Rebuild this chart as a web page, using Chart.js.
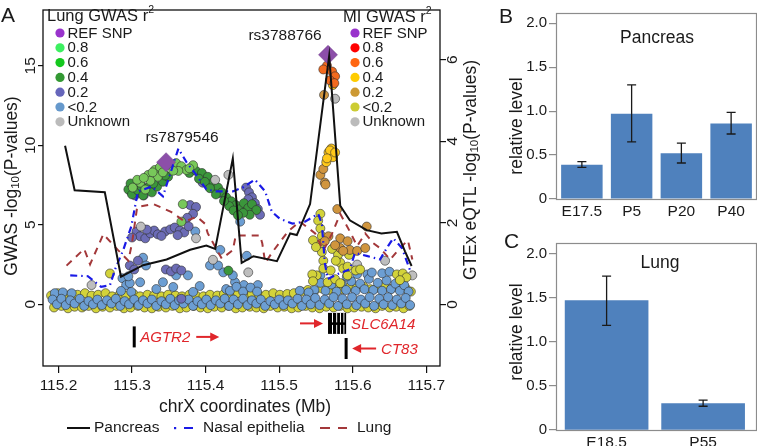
<!DOCTYPE html>
<html>
<head>
<meta charset="utf-8">
<script src="https://cdn.jsdelivr.net/npm/chart.js@4.4.1/dist/chart.umd.min.js"></script>
<style>
  body { margin: 0; background: #fff; }
  #wrap { position: relative; width: 757px; height: 446px; overflow: hidden; }
  canvas { position: absolute; }
</style>
</head>
<body>
<div id="wrap">
  <canvas id="chartA" width="490" height="446" style="left:0;top:0"></canvas>
  <canvas id="chartB" width="267" height="220" style="left:490px;top:0"></canvas>
  <canvas id="chartC" width="267" height="226" style="left:490px;top:220px"></canvas>
</div>
<script>
// =============================================================================
// PANEL A DATA  (x in Mb, GWAS points on left axis, eQTL lines on right axis)
// =============================================================================

const xTicks = [115.2, 115.3, 115.4, 115.5, 115.6, 115.7];
const gwasTicks = [0, 5, 10, 15];
const eqtlTicks = [0, 2, 4, 6];

const pancreasEqtl = [[115.209,3.89],[115.222,2.80],[115.263,2.75],[115.285,0.68],[115.315,0.96],[115.347,1.10],[115.379,1.34],[115.401,1.44],[115.413,1.36],[115.437,3.58],[115.449,1.02],[115.465,1.18],[115.497,1.06],[115.515,1.74],[115.524,1.70],[115.542,2.46],[115.568,6.10],[115.583,2.42],[115.596,2.06],[115.619,1.82],[115.639,1.74],[115.660,1.78],[115.671,1.30],[115.680,0.94]];

const nasalEqtl = [[115.216,0.71],[115.240,0.69],[115.258,0.43],[115.270,0.47],[115.277,0.86],[115.288,1.33],[115.299,1.91],[115.308,2.77],[115.327,2.89],[115.342,2.65],[115.363,3.82],[115.374,3.49],[115.387,3.18],[115.401,2.82],[115.414,2.77],[115.437,2.77],[115.451,2.87],[115.467,3.06],[115.481,2.77],[115.490,2.27],[115.501,2.10],[115.518,1.98],[115.535,2.03],[115.553,2.22],[115.558,1.98],[115.562,1.02],[115.566,0.62],[115.579,0.74],[115.596,0.86],[115.603,1.26],[115.619,1.19],[115.637,1.10],[115.648,1.43],[115.655,1.62],[115.667,1.38],[115.678,0.83]];

const lungEqtl = [[115.211,0.95],[115.235,1.36],[115.243,0.98],[115.261,1.72],[115.281,1.33],[115.295,1.07],[115.300,1.50],[115.307,2.39],[115.329,2.46],[115.353,2.27],[115.372,2.03],[115.388,2.15],[115.399,1.98],[115.403,1.74],[115.422,1.12],[115.437,1.33],[115.441,1.69],[115.456,1.69],[115.474,1.69],[115.477,1.50],[115.481,1.02],[115.492,1.31],[115.512,1.79],[115.528,2.03],[115.549,1.74],[115.560,1.31],[115.572,1.74],[115.583,2.22],[115.596,1.79],[115.606,1.43],[115.617,1.74],[115.628,1.50],[115.637,1.38],[115.651,1.10],[115.664,1.38],[115.675,1.57],[115.681,1.10]];

// reference SNPs (purple diamonds)
const refSnpNames = ['rs7879546', 'rs3788766'];
const refSnps = [[115.3463, 8.94], [115.5664, 15.69]];

// Lung GWAS r2 groups
const lung06 = [[115.322,8.14],[115.331,8.45],[115.338,8.63],[115.352,8.75],[115.360,8.88],[115.367,8.69],[115.374,8.45],[115.363,8.39],[115.335,8.02],[115.311,7.65],[115.301,7.34],[115.307,7.83],[115.325,7.77],[115.383,8.75],[115.318,7.22],[115.369,6.30],[115.367,5.20],[115.316,7.95],[115.342,8.30],[115.356,8.40],[115.378,8.55],[115.328,8.30]];
const lung04 = [[115.295,7.22],[115.300,6.91],[115.308,7.16],[115.315,6.85],[115.304,7.53],[115.321,7.34],[115.327,7.04],[115.334,7.40],[115.342,7.71],[115.349,8.02],[115.378,8.26],[115.387,8.39],[115.395,8.26],[115.403,8.02],[115.410,7.65],[115.417,7.34],[115.422,7.04],[115.428,6.73],[115.435,6.48],[115.441,6.24],[115.447,5.99],[115.452,6.36],[115.458,6.06],[115.463,6.30],[115.469,5.93],[115.460,5.63],[115.451,5.75],[115.432,6.18],[115.414,6.91],[115.431,2.12],[115.298,7.60],[115.313,7.40],[115.329,7.60],[115.345,8.10],[115.391,7.90],[115.399,7.70],[115.406,7.30],[115.425,6.50],[115.438,5.90],[115.444,5.60]];
const lung02 = [[115.299,7.04],[115.304,6.85],[115.311,7.04],[115.316,6.85],[115.396,7.65],[115.405,7.40],[115.413,7.22],[115.420,6.98],[115.379,6.24],[115.387,6.12],[115.383,5.69],[115.375,5.44],[115.306,4.58],[115.311,4.28],[115.318,4.15],[115.325,4.46],[115.330,4.64],[115.335,4.40],[115.345,4.58],[115.352,4.71],[115.358,4.83],[115.365,4.64],[115.371,4.52],[115.297,2.44],[115.303,2.19],[115.308,2.74],[115.346,2.19],[115.353,2.07],[115.360,2.25],[115.367,2.13],[115.455,7.34],[115.459,7.04],[115.463,6.73],[115.467,6.36],[115.471,5.99],[115.474,5.63],[115.458,6.61],[115.367,0.35],[115.300,4.20],[115.340,4.30],[115.362,4.35],[115.377,4.90],[115.320,4.70]];
const lungLowScatter = [[115.315,2.93],[115.319,2.44],[115.311,1.39],[115.342,1.39],[115.360,1.82],[115.376,1.82],[115.386,4.58],[115.406,2.44],[115.420,3.42],[115.424,2.01],[115.440,1.39],[115.356,1.09],[115.333,0.96],[115.428,0.96],[115.383,0.78],[115.417,2.44],[115.437,1.82],[115.456,3.05],[115.447,5.20],[115.287,1.64],[115.292,1.21],[115.285,0.84],[115.297,1.33],[115.295,1.76],[115.299,0.78],[115.556,1.82],[115.620,1.88],[115.392,1.15],[115.452,1.21],[115.471,1.21]];
const lungLowBand = [[115.192,0.3],[115.198,0.0],[115.204,0.35],[115.210,-0.05],[115.216,0.25],[115.222,0.05],[115.229,0.35],[115.235,-0.1],[115.241,0.2],[115.247,0.0],[115.253,0.3],[115.259,-0.05],[115.266,0.25],[115.272,0.05],[115.278,0.35],[115.284,-0.1],[115.290,0.2],[115.296,0.0],[115.303,0.3],[115.309,-0.05],[115.315,0.25],[115.321,0.05],[115.327,0.3],[115.333,-0.1],[115.340,0.2],[115.346,0.0],[115.352,0.35],[115.358,-0.05],[115.364,0.25],[115.370,0.05],[115.377,0.3],[115.383,-0.1],[115.389,0.2],[115.395,0.0],[115.401,0.3],[115.407,-0.05],[115.414,0.25],[115.420,0.05],[115.426,0.35],[115.432,-0.1],[115.438,0.3],[115.444,0.0],[115.451,0.35],[115.457,-0.05],[115.463,0.25],[115.469,0.05],[115.475,0.3],[115.481,-0.1],[115.488,0.2],[115.494,0.0],[115.500,0.3],[115.506,-0.05],[115.512,0.25],[115.518,0.05],[115.525,0.35],[115.531,-0.1],[115.537,0.3],[115.543,0.0],[115.549,0.4],[115.555,-0.05],[115.562,0.3],[115.568,0.05],[115.574,0.45],[115.580,-0.1],[115.586,0.35],[115.592,0.0],[115.599,0.45],[115.605,-0.05],[115.611,0.3],[115.617,0.05],[115.623,0.45],[115.629,-0.1],[115.636,0.35],[115.642,0.0],[115.648,0.45],[115.654,-0.05],[115.660,0.3],[115.666,0.05],[115.672,0.4],[115.678,-0.05]];
const lungLowUpper = [[115.548,0.9],[115.556,1.35],[115.563,0.85],[115.571,1.25],[115.578,0.8],[115.585,1.3],[115.591,0.9],[115.598,1.45],[115.604,0.85],[115.610,1.3],[115.616,0.95],[115.622,1.6],[115.628,0.9],[115.634,1.35],[115.640,0.85],[115.646,1.5],[115.652,0.95],[115.658,1.3],[115.664,0.85],[115.670,1.2],[115.676,0.8],[115.626,2.0],[115.640,1.95],[115.650,2.05],[115.606,1.9],[115.592,1.75],[115.668,1.75],[115.433,0.85],[115.442,1.1],[115.451,0.8],[115.461,1.05],[115.470,0.8],[115.195,0.7],[115.206,0.75],[115.218,0.7],[115.528,0.85],[115.540,0.75]];
const unknownSnps = [[115.245,1.21],[115.312,4.89],[115.387,4.15],[115.410,2.80],[115.413,7.83],[115.431,8.14],[115.458,2.01],[115.546,1.82],[115.644,2.74],[115.681,1.82],[115.606,2.50],[115.576,12.93]];

// MI GWAS r2 groups
const mi06 = [[115.565,15.01],[115.572,14.64],[115.576,14.34],[115.569,14.09],[115.560,14.77],[115.575,13.91]];
const mi04 = [[115.567,9.55],[115.573,9.25],[115.564,8.94],[115.571,9.80],[115.569,9.68],[115.576,9.55],[115.565,9.18],[115.573,13.79]];
const mi02 = [[115.556,8.14],[115.562,7.65],[115.560,8.51],[115.579,5.99],[115.567,4.28],[115.583,4.15],[115.593,3.97],[115.596,3.42],[115.583,3.54],[115.606,3.36],[115.617,3.54],[115.619,4.89],[115.562,3.97],[115.576,3.72],[115.587,3.36],[115.561,13.17],[115.563,7.53]];
const miLowScatter = [[115.270,1.94],[115.556,5.69],[115.553,5.26],[115.556,4.77],[115.558,4.28],[115.556,3.79],[115.558,3.29],[115.560,2.74],[115.560,2.25],[115.572,3.48],[115.580,3.11],[115.583,2.62],[115.587,2.25],[115.593,1.82],[115.604,2.13],[115.610,2.19],[115.551,1.82],[115.545,1.88],[115.546,1.45],[115.566,1.39],[115.576,1.58],[115.583,1.33],[115.660,1.88],[115.668,1.94],[115.673,1.70],[115.664,1.52],[115.546,4.03],[115.550,3.60],[115.577,2.74],[115.593,2.37],[115.570,2.13],[115.595,3.11]];
const miLowBand = [[115.190,0.55],[115.199,0.7],[115.208,0.5],[115.217,0.65],[115.226,0.6],[115.236,0.7],[115.245,0.55],[115.254,0.6],[115.264,0.7],[115.273,0.5],[115.283,0.6],[115.292,0.55],[115.302,0.65],[115.311,0.5],[115.321,0.6],[115.330,0.55],[115.340,0.5],[115.349,0.6],[115.359,0.55],[115.368,0.5],[115.378,0.6],[115.387,0.55],[115.397,0.5],[115.406,0.6],[115.416,0.55],[115.425,0.65],[115.435,0.6],[115.444,0.7],[115.454,0.6],[115.463,0.65],[115.473,0.55],[115.482,0.6],[115.492,0.7],[115.501,0.6],[115.511,0.65],[115.520,0.7],[115.530,0.8],[115.539,0.9],[115.548,0.85],[115.558,1.0],[115.567,0.9],[115.577,1.05],[115.586,0.95],[115.596,1.1],[115.605,1.0],[115.615,1.1],[115.624,0.95],[115.634,1.05],[115.643,1.1],[115.653,1.0],[115.662,1.15],[115.672,1.0],[115.679,0.8],[115.194,-0.2],[115.204,-0.1],[115.213,-0.25],[115.222,-0.15],[115.232,-0.2],[115.241,-0.1],[115.251,-0.25],[115.260,-0.15],[115.270,-0.2],[115.279,-0.1],[115.289,-0.25],[115.298,-0.2],[115.308,-0.1],[115.317,-0.2],[115.327,-0.25],[115.336,-0.15],[115.346,-0.2],[115.355,-0.1],[115.365,-0.25],[115.374,-0.2],[115.384,-0.1],[115.393,-0.2],[115.403,-0.25],[115.412,-0.15],[115.422,-0.2],[115.431,-0.1],[115.441,-0.25],[115.450,-0.2],[115.460,-0.15],[115.469,-0.2],[115.479,-0.25],[115.488,-0.1],[115.498,-0.2],[115.507,-0.15],[115.517,-0.25],[115.526,-0.2],[115.536,-0.1],[115.545,-0.2],[115.555,-0.25],[115.564,-0.15],[115.574,-0.2],[115.583,-0.1],[115.593,-0.25],[115.602,-0.2],[115.612,-0.15],[115.621,-0.2],[115.631,-0.25],[115.640,-0.1],[115.650,-0.2],[115.659,-0.15],[115.669,-0.25],[115.677,-0.1]];

// genes (start/end in Mb, row in GWAS units)
const geneNames = ['AGTR2', 'SLC6A14', 'CT83'];
const geneStart = [115.303, 115.5664, 115.591];
const geneEnd = [115.303, 115.591, 115.591];
const geneStrand = ['+', '+', '-'];
const geneRow = [-2.05, -1.2, -2.78];

const legendLevels = ['REF SNP', '0.8', '0.6', '0.4', '0.2', '<0.2', 'Unknown'];
const lineNames = ['Pancreas', 'Nasal epithelia', 'Lung'];

// =============================================================================
// PANEL B / C DATA
// =============================================================================

const pancreasStages = ['E17.5', 'P5', 'P20', 'P40'];
const pancreasLevel = [0.39, 0.97, 0.52, 0.86];
const pancreasErrLow = [0.36, 0.65, 0.41, 0.74];
const pancreasErrHigh = [0.425, 1.30, 0.635, 0.985];

const lungStages = ['E18.5', 'P55'];
const lungLevel = [1.47, 0.30];
const lungErrLow = [1.19, 0.27];
const lungErrHigh = [1.75, 0.34];

// =============================================================================
// STYLE
// =============================================================================

const FONT = "'Liberation Sans', Arial, Helvetica, sans-serif";
const TEXT = '#1a1a1a';
const RED = '#E0262B';
const f = (size, style) => (style ? style + ' ' : '') + size + 'px ' + FONT;

const COL = {
  ref: '#8C4FA9', lung06: '#78C85A', lung04: '#3B963B', lung02: '#6C6CB6', lungLow: '#6C9ED3',
  unknown: '#BEBEBE', mi06: '#F26A1F', mi04: '#FFC81A', mi02: '#D0953E', miLow: '#D3D33A',
  pancreas: '#111111', nasal: '#1A1AE6', lung: '#A3383A', bar: '#4F81BD'
};
const lungLegendColors = ['#9933CC', '#3CF060', '#14C81E', '#339933', '#6666BB', '#6699CC', '#BBBBBB'];
const miLegendColors = ['#9933CC', '#FF0000', '#FF6611', '#FFCC00', '#CC9933', '#CCCC33', '#BBBBBB'];

const toXY = arr => arr.map(([x, y]) => ({ x, y }));

// =============================================================================
// DRAW HELPERS
// =============================================================================

// text made of parts (for sub/superscripts), optionally rotated, centred at x,y
function richText(ctx, parts, x, y, angle, align) {
  ctx.save();
  ctx.translate(x, y);
  ctx.rotate(angle || 0);
  let total = 0;
  parts.forEach(p => { ctx.font = f(p.size); p.w = ctx.measureText(p.t).width; total += p.w; });
  let cx = align === 'left' ? 0 : -total / 2;
  ctx.textBaseline = 'middle';
  ctx.textAlign = 'left';
  parts.forEach(p => { ctx.font = f(p.size); ctx.fillText(p.t, cx, p.dy || 0); cx += p.w; });
  ctx.restore();
}

function rotLabel(ctx, text, x, y, size) {
  ctx.save();
  ctx.translate(x, y);
  ctx.rotate(-Math.PI / 2);
  ctx.font = f(size);
  ctx.textAlign = 'center';
  ctx.textBaseline = 'middle';
  ctx.fillText(text, 0, 0);
  ctx.restore();
}

function arrow(ctx, x1, x2, yy) {
  const dir = Math.sign(x2 - x1);
  ctx.beginPath(); ctx.moveTo(x1, yy); ctx.lineTo(x2 - dir * 6, yy); ctx.stroke();
  ctx.beginPath(); ctx.moveTo(x2, yy); ctx.lineTo(x2 - dir * 9, yy - 4.5); ctx.lineTo(x2 - dir * 9, yy + 4.5);
  ctx.closePath(); ctx.fill();
}

function colorLegend(ctx, title, colors, x0, titleY, bulletX) {
  ctx.fillStyle = TEXT;
  richText(ctx, [{ t: title, size: 16.5 }, { t: '2', size: 10.5, dy: -6 }], x0, titleY, 0, 'left');
  legendLevels.forEach((lab, i) => {
    const yy = 33 + i * 14.8;
    ctx.fillStyle = colors[i];
    ctx.beginPath(); ctx.arc(bulletX, yy, 4.6, 0, Math.PI * 2); ctx.fill();
    ctx.fillStyle = TEXT;
    ctx.font = f(15);
    ctx.textAlign = 'left'; ctx.textBaseline = 'middle';
    ctx.fillText(lab, bulletX + 7.5, yy + 0.5);
  });
}

// =============================================================================
// PANEL A
// =============================================================================

const panelAPlugin = {
  id: 'panelA',
  afterDraw(chart) {
    const ctx = chart.ctx;
    const { x, y, y2 } = chart.scales;
    const a = chart.chartArea;
    ctx.save();

    // frame
    ctx.strokeStyle = '#111';
    ctx.lineWidth = 1.3;
    ctx.strokeRect(a.left, a.top, a.right - a.left, a.bottom - a.top);

    // tick labels
    ctx.fillStyle = TEXT;
    gwasTicks.forEach(v => rotLabel(ctx, String(v), 31, y.getPixelForValue(v), 15.5));
    eqtlTicks.forEach(v => rotLabel(ctx, String(v), 453, y2.getPixelForValue(v), 15.5));
    ctx.font = f(15.5);
    ctx.textAlign = 'center'; ctx.textBaseline = 'middle';
    xTicks.forEach(v => ctx.fillText(v.toFixed(1), x.getPixelForValue(v), 386));

    // axis titles
    ctx.font = f(17.5);
    ctx.fillText('chrX coordinates (Mb)', 245, 407);
    richText(ctx, [{ t: 'GWAS -log', size: 17.5 }, { t: '10', size: 11.5, dy: 4 }, { t: '(P-values)', size: 17.5 }], 12, 186, -Math.PI / 2);
    richText(ctx, [{ t: 'GTEx eQTL -log', size: 17.5 }, { t: '10', size: 11.5, dy: 4 }, { t: '(P-values)', size: 17.5 }], 471, 170, -Math.PI / 2);

    // reference SNP labels
    ctx.font = f(15.5);
    ctx.textAlign = 'center';
    ctx.fillText(refSnpNames[0], x.getPixelForValue(refSnps[0][0]) + 16, y.getPixelForValue(refSnps[0][1]) - 24);
    ctx.fillText(refSnpNames[1], x.getPixelForValue(refSnps[1][0]) - 43, y.getPixelForValue(refSnps[1][1]) - 19);

    // r2 legends
    colorLegend(ctx, 'Lung GWAS r', lungLegendColors, 47, 16, 60);
    colorLegend(ctx, 'MI GWAS r', miLegendColors, 343, 17, 355);

    // genes
    geneNames.forEach((name, i) => {
      const x1 = x.getPixelForValue(geneStart[i]);
      const x2 = x.getPixelForValue(geneEnd[i]);
      const gy = y.getPixelForValue(geneRow[i]);
      ctx.fillStyle = '#000';
      ctx.strokeStyle = RED;
      ctx.lineWidth = 2;
      ctx.font = f(15, 'italic');
      ctx.textBaseline = 'middle';
      ctx.textAlign = 'left';
      if (x2 - x1 < 1) {
        ctx.fillRect(x1 - 1.5, gy - 10.5, 3, 21);
      } else {
        ctx.fillRect(x1, gy - 10.5, x2 - x1, 21);
        ctx.fillStyle = '#fff';
        [0.22, 0.45, 0.66, 0.85].forEach(t => {
          ctx.fillRect(x1 + t * (x2 - x1), gy - 10.5, 1, 9.5);
          ctx.fillRect(x1 + t * (x2 - x1), gy + 1.5, 1, 9);
        });
      }
      ctx.fillStyle = RED;
      if (geneStrand[i] === '+' && x2 - x1 < 1) {
        ctx.fillText(name, x1 + 6, gy + 1);
        const w = ctx.measureText(name).width;
        arrow(ctx, x1 + 6 + w + 6, x1 + 6 + w + 29, gy);
      } else if (geneStrand[i] === '+') {
        arrow(ctx, x1 - 28, x1 - 5, gy);
        ctx.fillText(name, x2 + 5, gy + 1);
      } else {
        arrow(ctx, x1 + 30, x1 + 6, gy);
        ctx.fillText(name, x1 + 35, gy + 1);
      }
    });

    // line legend
    const ly = 428;
    ctx.lineWidth = 2;
    ctx.strokeStyle = COL.pancreas;
    ctx.beginPath(); ctx.moveTo(67, ly); ctx.lineTo(90, ly); ctx.stroke();
    ctx.fillStyle = COL.nasal;
    ctx.fillRect(174, ly - 1, 2.2, 2.2);
    ctx.strokeStyle = COL.nasal;
    ctx.beginPath(); ctx.moveTo(184, ly); ctx.lineTo(193, ly); ctx.stroke();
    ctx.strokeStyle = COL.lung;
    ctx.beginPath(); ctx.moveTo(320, ly); ctx.lineTo(330, ly); ctx.moveTo(338, ly); ctx.lineTo(347, ly); ctx.stroke();
    ctx.fillStyle = TEXT;
    ctx.font = f(15.5);
    ctx.textAlign = 'left';
    ctx.fillText(lineNames[0], 94, ly);
    ctx.fillText(lineNames[1], 203, ly);
    ctx.fillText(lineNames[2], 357, ly);

    // panel letter
    ctx.font = f(21);
    ctx.textBaseline = 'alphabetic';
    ctx.fillText('A', 1, 22);
    ctx.restore();
  }
};

const lineDs = (data, color, dash, width) => ({
  data: toXY(data), yAxisID: 'y2', showLine: true, borderColor: color, borderWidth: width,
  borderDash: dash, pointRadius: 0, fill: false, tension: 0
});
const ptDs = (data, color) => ({
  data: toXY(data), yAxisID: 'y', backgroundColor: color, borderColor: 'rgba(45,45,45,0.85)',
  borderWidth: 0.7, pointRadius: 4.5, showLine: false
});

new Chart(document.getElementById('chartA'), {
  type: 'scatter',
  data: {
    datasets: [
      lineDs(pancreasEqtl, COL.pancreas, [], 2),
      lineDs(nasalEqtl, COL.nasal, [7, 4, 1.5, 4], 2.2),
      lineDs(lungEqtl, COL.lung, [7, 6], 2),
      { ...ptDs(refSnps, COL.ref), pointStyle: 'rectRot', pointRadius: 9.5, borderColor: '#6d3a88', borderWidth: 0.5 },
      ptDs(mi06, COL.mi06),
      ptDs(mi04, COL.mi04),
      ptDs(mi02, COL.mi02),
      ptDs(miLowScatter, COL.miLow),
      ptDs(unknownSnps, COL.unknown),
      ptDs(lung06, COL.lung06),
      ptDs(lung04, COL.lung04),
      ptDs(lung02, COL.lung02),
      ptDs(lungLowScatter.concat(lungLowUpper, lungLowBand), COL.lungLow),
      ptDs(miLowBand, COL.miLow)
    ]
  },
  options: {
    responsive: false,
    animation: false,
    devicePixelRatio: 1,
    layout: { padding: { top: 1, left: 0, right: 0, bottom: 0 } },
    plugins: { legend: { display: false }, tooltip: { enabled: false } },
    scales: {
      x: {
        type: 'linear', min: 115.179, max: 115.7186,
        ticks: { display: false, stepSize: 0.1, includeBounds: false },
        grid: { drawOnChartArea: false, tickLength: 7, color: '#111', lineWidth: 1.2 },
        border: { display: false },
        afterFit: s => { s.height = 80; }
      },
      y: {
        position: 'left', min: -3.88, max: 18.51,
        ticks: { display: false, stepSize: 5, includeBounds: false },
        grid: { drawOnChartArea: false, tickLength: 5, color: '#111', lineWidth: 1.2 },
        border: { display: false },
        afterFit: s => { s.width = 43; }
      },
      y2: {
        position: 'right', min: -1.512, max: 7.22,
        ticks: { display: false, stepSize: 2, includeBounds: false },
        grid: { drawOnChartArea: false, tickLength: 6, color: '#111', lineWidth: 1.2 },
        border: { display: false },
        afterFit: s => { s.width = 50; }
      }
    }
  },
  plugins: [panelAPlugin]
});

// =============================================================================
// PANELS B AND C (bar charts with error bars)
// =============================================================================

function barPanelPlugin(opts) {
  return {
    id: 'barPanel' + opts.letter,
    afterDraw(chart) {
      const ctx = chart.ctx;
      const a = chart.chartArea;
      const ys = chart.scales.y;
      const meta = chart.getDatasetMeta(0);
      ctx.save();
      // error bars
      ctx.strokeStyle = '#1a1a1a';
      ctx.lineWidth = 1.3;
      meta.data.forEach((bar, i) => {
        const lo = ys.getPixelForValue(opts.low[i]);
        const hi = ys.getPixelForValue(opts.high[i]);
        ctx.beginPath();
        ctx.moveTo(bar.x, lo); ctx.lineTo(bar.x, hi);
        ctx.moveTo(bar.x - 4.5, lo); ctx.lineTo(bar.x + 4.5, lo);
        ctx.moveTo(bar.x - 4.5, hi); ctx.lineTo(bar.x + 4.5, hi);
        ctx.stroke();
      });
      // frame
      ctx.strokeStyle = '#8c8c8c';
      ctx.lineWidth = 1.2;
      ctx.strokeRect(a.left - 0.5, a.top - 0.5, a.right - a.left + 1, a.bottom - a.top + 1);
      // texts
      ctx.fillStyle = TEXT;
      ctx.font = f(17.5);
      ctx.textAlign = 'center'; ctx.textBaseline = 'middle';
      ctx.fillText(opts.title, opts.titleX, opts.titleY);
      rotLabel(ctx, 'relative level', 27.5, opts.axisTitleY, 17.5);
      ctx.font = f(21);
      ctx.textAlign = 'left'; ctx.textBaseline = 'alphabetic';
      ctx.fillText(opts.letter, opts.letterX, opts.letterY);
      ctx.restore();
    }
  };
}

const levelAxis = (max) => ({
  min: 0, max: max,
  ticks: {
    stepSize: 0.5, includeBounds: false, padding: 2, color: TEXT, font: { family: FONT, size: 15 },
    callback: v => (v === 0 ? '0' : v.toFixed(1))
  },
  grid: { drawOnChartArea: false, tickLength: 8, color: '#8c8c8c', lineWidth: 1.2 },
  border: { display: false },
  afterFit: s => { s.width = 67; }
});

new Chart(document.getElementById('chartB'), {
  type: 'bar',
  data: {
    labels: pancreasStages,
    datasets: [{ data: pancreasLevel, backgroundColor: COL.bar, borderWidth: 0, categoryPercentage: 1, barPercentage: 0.834 }]
  },
  options: {
    responsive: false, animation: false, devicePixelRatio: 1,
    layout: { padding: { top: 14, right: 1, left: 0, bottom: 0 } },
    plugins: { legend: { display: false }, tooltip: { enabled: false } },
    scales: {
      x: {
        ticks: { padding: 3, color: TEXT, font: { family: FONT, size: 15.5 } },
        grid: { display: false, drawTicks: false }, border: { display: false },
        afterFit: s => { s.height = 21; }
      },
      y: levelAxis(2.106)
    }
  },
  plugins: [barPanelPlugin({ letter: 'B', letterX: 9, letterY: 23, title: 'Pancreas', titleX: 167, titleY: 38,
    axisTitleY: 126, low: pancreasErrLow, high: pancreasErrHigh })]
});

new Chart(document.getElementById('chartC'), {
  type: 'bar',
  data: {
    datasets: [{ data: lungLevel.map((v, i) => ({ x: i, y: v })), backgroundColor: COL.bar, borderWidth: 0, barThickness: 83 }]
  },
  options: {
    responsive: false, animation: false, devicePixelRatio: 1,
    layout: { padding: { top: 24, right: 1, left: 0, bottom: 0 } },
    plugins: { legend: { display: false }, tooltip: { enabled: false } },
    scales: {
      x: {
        type: 'linear', min: -0.514, max: 1.548, offset: false,
        ticks: { stepSize: 1, includeBounds: false, padding: 3, color: TEXT, font: { family: FONT, size: 15.5 },
          callback: v => lungStages[v] || '' },
        grid: { display: false, drawTicks: false, offset: false }, border: { display: false },
        afterFit: s => { s.height = 16; }
      },
      y: levelAxis(2.114)
    }
  },
  plugins: [barPanelPlugin({ letter: 'C', letterX: 14, letterY: 28, title: 'Lung', titleX: 170, titleY: 43,
    axisTitleY: 112, low: lungErrLow, high: lungErrHigh })]
});
</script>
</body>
</html>
